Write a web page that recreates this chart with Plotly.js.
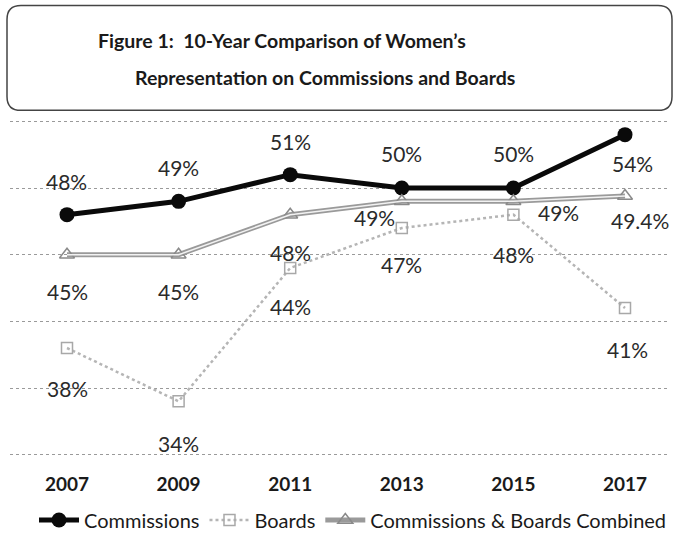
<!DOCTYPE html>
<html>
<head>
<meta charset="utf-8">
<script src="https://cdn.plot.ly/plotly-3.0.1.min.js"></script>
<style>html,body{margin:0;padding:0;background:#fff;}#chart{width:678px;height:537px;}</style>
</head>
<body>
<div id="chart"></div>
<script>
const years = ["2007", "2009", "2011", "2013", "2015", "2017"];
const commissions = [48, 49, 51, 50, 50, 54];
const boards = [38, 34, 44, 47, 48, 41];
const combined = [45, 45, 48, 49, 49, 49.4];
const commissionsLabels = ["48%", "49%", "51%", "50%", "50%", "54%"];
const boardsLabels = ["38%", "34%", "44%", "47%", "48%", "41%"];
const combinedLabels = ["45%", "45%", "48%", "49%", "49%", "49.4%"];
const seriesNames = ["Commissions", "Boards", "Commissions & Boards Combined"];
const titleLines = ["Figure 1:  10-Year Comparison of Women’s", "Representation on Commissions and Boards"];

const FONT = "Lato, 'Open Sans', sans-serif";
const LABEL_COLOR = "#2a2a2a";

// label offsets (pixels) per series per point
const comOff = [[-1, 33], [0, 34], [0, 33], [0, 35], [0, 35], [7, -29]];
const brdOff = [[0, -40], [0, -42], [0, -38], [0, -36], [0, -40], [2, -41]];
const cmbOff = [[0, -37], [0, -37], [0, -38], [-27, -16], [45, -11], [15, -24]];

const xIdx = years.map((_, i) => i);

const traces = [
  {
    x: xIdx, y: commissions, name: seriesNames[0], type: "scatter", mode: "lines+markers",
    line: {color: "#0a0a0a", width: 5},
    marker: {symbol: "circle", size: 15, color: "#0a0a0a"}
  },
  {
    x: xIdx, y: boards, name: seriesNames[1], type: "scatter", mode: "lines+markers",
    line: {color: "#b5b5b5", width: 2.5, dash: "dot"},
    marker: {symbol: "square-open", size: 11, color: "#a8a8a8", line: {width: 1.5}}
  },
  {
    x: xIdx, y: combined, name: seriesNames[2], type: "scatter", mode: "lines+markers",
    line: {color: "#9a9a9a", width: 5},
    marker: {symbol: "triangle-up-open", size: 13, color: "#8a8a8a", line: {width: 1.5}}
  },
  {
    x: xIdx, y: combined, name: seriesNames[2], type: "scatter", mode: "lines",
    line: {color: "#f2f2f2", width: 1.5}, showlegend: false, hoverinfo: "skip"
  }
];

const annotations = [];
function addLabels(vals, labels, offs) {
  vals.forEach((v, i) => {
    annotations.push({
      x: i, y: v, xref: "x", yref: "y", text: labels[i], showarrow: false,
      xshift: offs[i][0], yshift: offs[i][1],
      font: {family: FONT, size: 21, color: LABEL_COLOR}
    });
  });
}
addLabels(commissions, commissionsLabels, comOff);
addLabels(boards, boardsLabels, brdOff);
addLabels(combined, combinedLabels, cmbOff);

// plot geometry: 55 -> y=121px, 30 -> y=455px
const ppu = (455 - 121) / 25;
const yr0 = 29.9, yr1 = 55.1;
const L = 10, R = 8;
const T = 121 - (yr1 - 55) * ppu, B = 537 - 455 - (30 - yr0) * ppu;
const W = 678 - L - R, H = 537 - T - B;
const px = (p) => (p - L) / W;
const py = (p) => (537 - B - p) / H;

annotations.push({
  xref: "paper", yref: "paper", x: px(282), y: py(40), xanchor: "center", yanchor: "middle",
  text: titleLines[0], showarrow: false,
  font: {family: FONT, size: 19.5, color: "#1a1a1a", weight: 700}
});
annotations.push({
  xref: "paper", yref: "paper", x: px(325), y: py(77), xanchor: "center", yanchor: "middle",
  text: titleLines[1], showarrow: false,
  font: {family: FONT, size: 19.5, color: "#1a1a1a", weight: 700}
});

// rounded title box
const x0 = px(7), x1 = px(672), y0 = py(110), y1 = py(5);
const rx = 14 / W, ry = 14 / H;
const boxPath = `M ${x0 + rx},${y1} L ${x1 - rx},${y1} Q ${x1},${y1} ${x1},${y1 - ry} L ${x1},${y0 + ry} Q ${x1},${y0} ${x1 - rx},${y0} L ${x0 + rx},${y0} Q ${x0},${y0} ${x0},${y0 + ry} L ${x0},${y1 - ry} Q ${x0},${y1} ${x0 + rx},${y1} Z`;

const pxPerUnit = 111.6;
const r0 = -(67 - L) / pxPerUnit;
const r1 = r0 + W / pxPerUnit;

const layout = {
  width: 678, height: 537,
  margin: {l: L, r: R, t: T, b: B},
  paper_bgcolor: "#ffffff", plot_bgcolor: "#ffffff",
  font: {family: FONT, color: "#1a1a1a"},
  showlegend: true,
  legend: {
    orientation: "h", x: 353 / 678, xanchor: "center", xref: "container",
    y: (537 - 520) / 537, yanchor: "middle", yref: "container",
    font: {family: FONT, size: 20, color: "#1a1a1a"},
    itemwidth: 40, tracegroupgap: 0, traceorder: "normal"
  },
  xaxis: {
    range: [r0, r1], tickmode: "array", tickvals: xIdx, ticktext: years,
    showgrid: false, zeroline: false, showline: false, ticks: "",
    tickfont: {family: FONT, size: 19, color: "#1a1a1a", weight: 700},
    ticklabelstandoff: 15, fixedrange: true, automargin: false
  },
  yaxis: {
    range: [yr0, yr1], dtick: 5, tick0: 30, showticklabels: false, ticks: "",
    showgrid: true, gridcolor: "#9a9a9a", griddash: "dot", gridwidth: 1,
    zeroline: false, showline: false, fixedrange: true, automargin: false
  },
  shapes: [{
    type: "path", xref: "paper", yref: "paper", path: boxPath,
    line: {color: "#444", width: 1.5}, fillcolor: "rgba(0,0,0,0)", layer: "above"
  }],
  annotations: annotations
};

Plotly.newPlot("chart", traces, layout, {displayModeBar: false, staticPlot: true});
</script>
</body>
</html>
